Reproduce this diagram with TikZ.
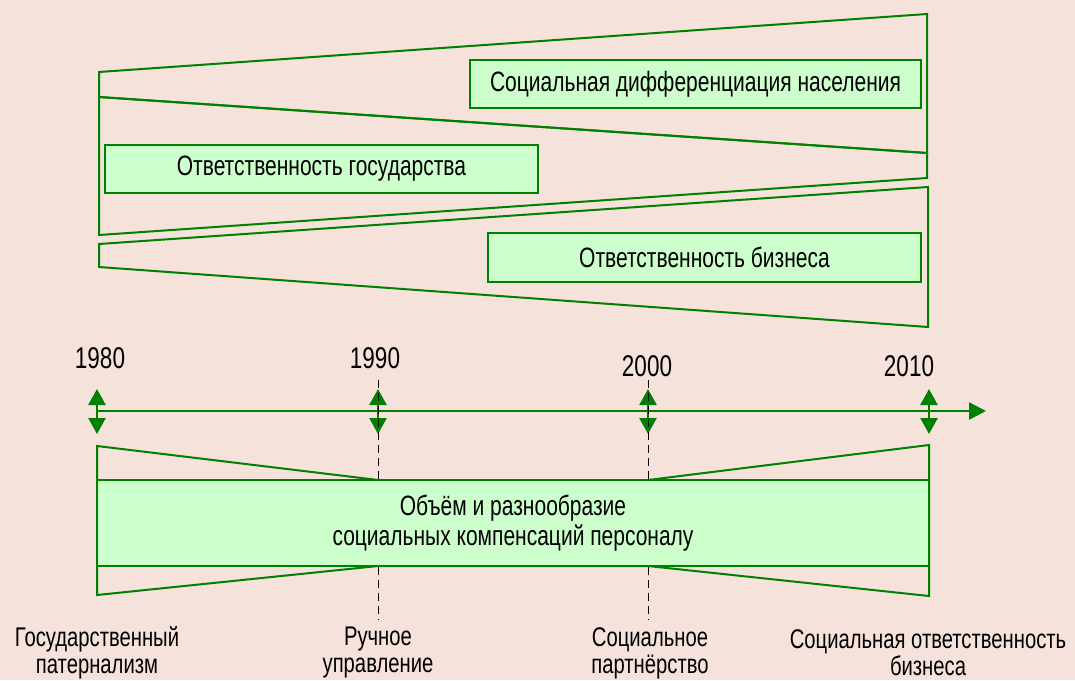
\documentclass[tikz,border=0pt]{standalone}
\usepackage{fontspec}
\setmainfont[FakeStretch=0.75]{Liberation Sans}
\usepackage{tikz}
\usetikzlibrary{arrows.meta,positioning}
\definecolor{bgpink}{RGB}{245,226,218}
\definecolor{linegreen}{RGB}{0,128,0}
\definecolor{boxgreen}{RGB}{204,255,204}

\begin{document}
\begin{tikzpicture}[x=1pt, y=-1pt, >=Stealth,
    wedge/.style={draw=linegreen, line width=2pt, line join=miter},
    greenbox/.style={draw=linegreen, line width=2pt, fill=boxgreen, inner sep=0pt, font=\fontsize{28}{30}\selectfont, align=center},
    year/.style={font=\fontsize{30}{34}\selectfont},
    stage/.style={font=\fontsize{27}{27}\selectfont, align=center},
    tick/.style={draw=linegreen, line width=2.5pt, {Triangle[width=17pt,length=16pt]}-{Triangle[width=17pt,length=16pt]}},
    guide/.style={draw=black, line width=1pt, dash pattern=on 8pt off 5pt}]
        \useasboundingbox (0,0) rectangle (1075,680);
        \fill[bgpink] (0,0) rectangle (1075,680);

        % Upper wedges
        \draw[wedge] (99,72) -- (927,14) -- (927,153) -- (99,97) -- cycle;
        \draw[wedge] (99,97) -- (927,153) -- (927,178) -- (99,235) -- cycle;
        \draw[wedge] (99,244) -- (928,187) -- (928,327) -- (99,267) -- cycle;

        % Responsibility boxes
        \node[greenbox, minimum width=451pt, minimum height=48pt] (diff) at (695.5,84) {Социальная дифференциация населения};
        \node[greenbox, minimum width=433pt, minimum height=48pt] (state) at (321.5,169) {Ответственность государства};
        \node[greenbox, minimum width=433pt, minimum height=49pt] (business) at (704.5,257.5) {Ответственность бизнеса};

        % Time axis
        \coordinate (t1980) at (97,411);
        \coordinate (t1990) at (378,411);
        \coordinate (t2000) at (648,411);
        \coordinate (t2010) at (929,411);
        \coordinate (tend) at (986,411);
        \draw[draw=linegreen, line width=2.5pt, -{Triangle[width=17pt,length=17pt]}] (t1980) -- (tend);
        \foreach \t in {1980,1990,2000,2010}
            \draw[tick] ([yshift=22pt]t\t) -- ([yshift=-23pt]t\t);

        % Years
        \node[year] (y1980) at (100,358) {1980};
        \node[year] (y1990) at (375,358) {1990};
        \node[year] (y2000) at (647,366) {2000};
        \node[year] (y2010) at (909,366) {2010};

        % Lower wedge and compensation box
        \draw[wedge] (97,446) -- (378,480) -- (648,480) -- (929,445) -- (929,596) -- (648,566) -- (378,566) -- (97,595) -- cycle;
        \node[greenbox, minimum width=832pt, minimum height=86pt] (comp) at (513,523) {Объём и разнообразие\\[0pt]социальных компенсаций персоналу};

        % Guides
        \coordinate (g1990) at (378,620);
        \coordinate (g2000) at (648,620);
        \draw[guide] ([yshift=31pt]t1990) -- (comp.north -| t1990);
        \draw[guide] ([yshift=31pt]t2000) -- (comp.north -| t2000);
        \draw[guide] (comp.south -| t1990) -- (g1990);
        \draw[guide] (comp.south -| t2000) -- (g2000);

        % Stages
        \node[stage] (paternal) at (97,653) {Государственный\\патернализм};
        \node[stage] (manual) at (378,653) {Ручное\\управление};
        \node[stage] (partner) at (650,653) {Социальное\\партнёрство};
        \node[stage] (csr) at (928,653) {Социальная ответственность\\бизнеса};
    \end{tikzpicture}
\end{document}
